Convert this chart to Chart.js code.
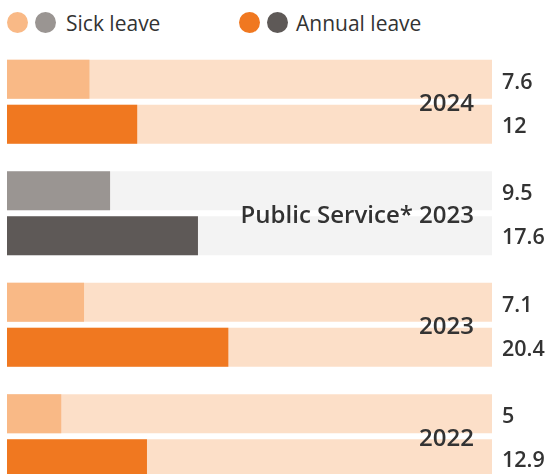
<!DOCTYPE html>
<html>
<head>
<meta charset="utf-8">
<script src="https://cdn.jsdelivr.net/npm/chart.js@4/dist/chart.umd.min.js"></script>
<style>
  html, body { margin: 0; padding: 0; background: #fff; overflow: hidden; width: 555px; height: 474px; }
  #wrap { position: absolute; left: 0; top: 0; width: 555px; height: 500px; }
  #legend { position: absolute; left: 0; top: 0; width: 555px; height: 44px; font-family: "Open Sans", sans-serif; font-size: 21px; color: #333; }
  .dot { position: absolute; top: 12px; width: 21px; height: 21px; border-radius: 50%; }
  .lt { position: absolute; top: 9px; line-height: 28px; }
</style>
</head>
<body>
<div id="legend">
  <span class="dot" style="left:7px;background:#F9B986"></span>
  <span class="dot" style="left:35px;background:#9A9592"></span>
  <span class="lt" style="left:66px">Sick leave</span>
  <span class="dot" style="left:239px;background:#F07820"></span>
  <span class="dot" style="left:267px;background:#5E5957"></span>
  <span class="lt" style="left:296px">Annual leave</span>
</div>
<div id="wrap"><canvas id="c" width="555" height="500"></canvas></div>
<script>
const categories = ['2024', 'Public Service* 2023', '2023', '2022'];
const sickLeave = [7.6, 9.5, 7.1, 5];
const annualLeave = [12, 17.6, 20.4, 12.9];
const trackMax = 44.7;
const trackValues = [trackMax, trackMax, trackMax, trackMax];

const sickColors = ['#F9B986', '#9A9592', '#F9B986', '#F9B986'];
const annualColors = ['#F07820', '#5E5957', '#F07820', '#F07820'];
const trackColors = ['#FCDFC8', '#F3F3F3', '#FCDFC8', '#FCDFC8'];

const labelPlugin = {
  id: 'labels',
  afterDatasetsDraw(chart) {
    const ctx = chart.ctx;
    const yScale = chart.scales.y;
    ctx.save();
    ctx.fillStyle = '#333';
    ctx.textBaseline = 'alphabetic';
    // value labels
    ctx.font = '600 21.5px "Open Sans"';
    ctx.textAlign = 'left';
    const offs = {2: 9.7, 3: 8.3};
    [2, 3].forEach(di => {
      const meta = chart.getDatasetMeta(di);
      const vals = chart.data.datasets[di].data;
      meta.data.forEach((bar, i) => {
        ctx.fillText(String(vals[i]), 502, bar.y + offs[di]);
      });
    });
    // category labels
    ctx.font = '600 24px "Open Sans"';
    ctx.textAlign = 'right';
    categories.forEach((c, i) => {
      const y = yScale.getPixelForValue(i);
      ctx.fillText(c, 474, y + 9.5);
    });
    ctx.restore();
  }
};

new Chart(document.getElementById('c'), {
  type: 'bar',
  data: {
    labels: categories,
    datasets: [
      { label: 'track sick', data: trackValues, backgroundColor: trackColors, stack: 's', order: 2 },
      { label: 'track annual', data: trackValues, backgroundColor: trackColors, stack: 'a', order: 2 },
      { label: 'Sick leave', data: sickLeave, backgroundColor: sickColors, stack: 's', order: 1 },
      { label: 'Annual leave', data: annualLeave, backgroundColor: annualColors, stack: 'a', order: 1 }
    ]
  },
  options: {
    indexAxis: 'y',
    responsive: false,
    animation: false,
    devicePixelRatio: 1,
    categoryPercentage: 0.8086,
    barPercentage: 0.8667,
    layout: { padding: { left: 7, right: 63, top: 46, bottom: 8 } },
    plugins: { legend: { display: false }, tooltip: { enabled: false } },
    scales: {
      x: { display: false, stacked: false, min: 0, max: trackMax },
      y: { display: false }
    }
  },
  plugins: [labelPlugin]
});
</script>
</body>
</html>
